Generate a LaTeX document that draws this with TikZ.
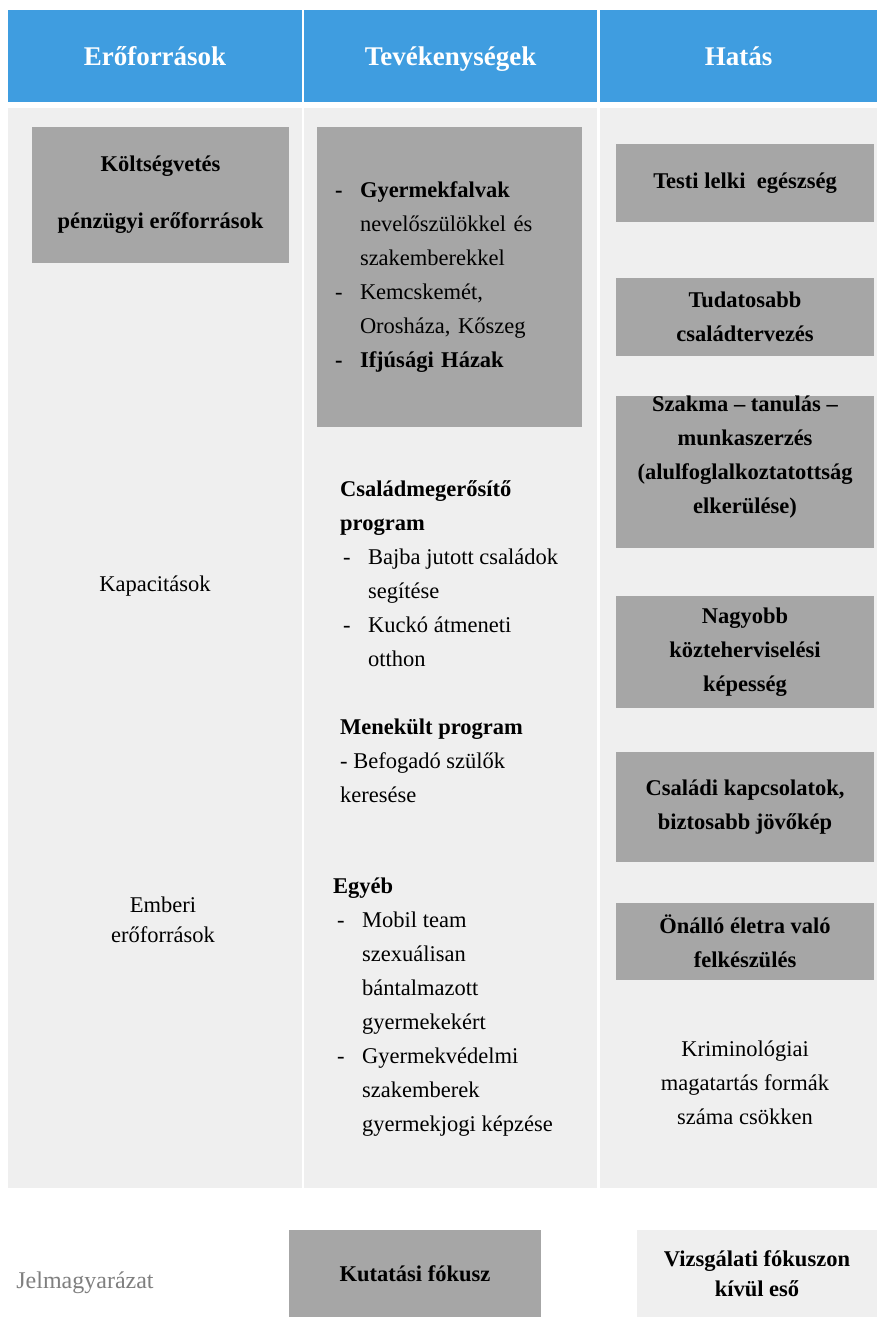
\documentclass[tikz,border=0pt]{standalone}
\usepackage{fontspec}
\setmainfont{Liberation Serif}
\usetikzlibrary{positioning}
\definecolor{headblue}{RGB}{63,157,224}
\definecolor{colgray}{RGB}{239,239,239}
\definecolor{focusgray}{RGB}{166,166,166}
\definecolor{legendgray}{RGB}{127,127,127}
\newcommand{\listdash}{\makebox[25pt][l]{-}}
\newcommand{\listgap}{\hspace*{25pt}}

\begin{document}
\begin{tikzpicture}[
    x=1pt, y=-1pt,
    headbox/.style={fill=headblue, text=white, font=\fontsize{27}{32}\selectfont\bfseries, minimum height=92pt, text height=22pt, text depth=4pt, inner sep=0pt},
    focusbox/.style={fill=focusgray, minimum width=258pt, font=\fontsize{22.5}{34}\selectfont\bfseries, align=center, inner sep=0pt},
    plaintext/.style={font=\fontsize{22.5}{34}\selectfont, align=left, inner sep=0pt, anchor=north west},
    midtext/.style={font=\fontsize{22.5}{34}\selectfont, align=center, inner sep=0pt}
]
    \useasboundingbox (0,0) rectangle (877,1317);
    \fill[white] (0,0) rectangle (877,1317);

    % header row
    \node[headbox, minimum width=294pt] (resources) at (155,56) {Erőforrások};
    \node[headbox, minimum width=293pt] (activities) at (450.5,56) {Tevékenységek};
    \node[headbox, minimum width=277pt] (impact) at (738.5,56) {Hatás};

    % column backgrounds
    \fill[colgray] (8,108) rectangle (302,1188);
    \fill[colgray] (304,108) rectangle (597,1188);
    \fill[colgray] (600,108) rectangle (877,1188);

    % resources
    \node[focusbox, minimum width=257pt, minimum height=136pt] (budget) at (160.5,195) {Költségvetés\\[23pt] pénzügyi erőforrások};
    \node[midtext] (capacity) at (155,586) {Kapacitások};
    \node[midtext, font=\fontsize{22.5}{30}\selectfont] (human) at (163,920) {Emberi\\ erőforrások};

    % activities
    \node[focusbox, minimum width=265pt, minimum height=300pt, text width=229pt, align=left, font=\fontsize{22.5}{34}\selectfont] (villages) at (449.5,277)
        {\textbf{\listdash Gyermekfalvak}\\ \listgap nevelőszülökkel és\\ \listgap szakemberekkel\\ \listdash Kemcskemét,\\ \listgap Orosháza, Kőszeg\\ \textbf{\listdash Ifjúsági Házak}};
    \node[plaintext] (family) at (340,480)
        {\textbf{Családmegerősítő}\\ \textbf{program}\\ \hspace*{3pt}\listdash Bajba jutott családok\\ \hspace*{3pt}\listgap segítése\\ \hspace*{3pt}\listdash Kuckó átmeneti\\ \hspace*{3pt}\listgap otthon\\[34pt] \textbf{Menekült program}\\ - Befogadó szülők\\ keresése};
    \node[plaintext] (other) at (333,878)
        {\textbf{Egyéb}\\ \hspace*{4pt}\listdash Mobil team\\ \hspace*{4pt}\listgap szexuálisan\\ \hspace*{4pt}\listgap bántalmazott\\ \hspace*{4pt}\listgap gyermekekért\\ \hspace*{4pt}\listdash Gyermekvédelmi\\ \hspace*{4pt}\listgap szakemberek\\ \hspace*{4pt}\listgap gyermekjogi képzése};

    % impact
    \node[focusbox, minimum height=78pt] (health) at (745,183) {Testi lelki\ \ egészség};
    \node[focusbox, minimum height=78pt] (planning) at (745,317) {Tudatosabb\\ családtervezés};
    \node[focusbox, minimum height=152pt] (work) at (745,472) {};
    \node[midtext, font=\fontsize{22.5}{34}\selectfont\bfseries] (worktext) at ([yshift=15pt]work.center) {Szakma -- tanulás --\\ munkaszerzés\\ (alulfoglalkoztatottság\\ elkerülése)};
    \node[focusbox, minimum height=112pt] (tax) at (745,652) {Nagyobb\\ közteherviselési\\ képesség};
    \node[focusbox, minimum height=110pt] (ties) at (745,807) {Családi kapcsolatok,\\ biztosabb jövőkép};
    \node[focusbox, minimum height=77pt] (selfcare) at (745,941.5) {Önálló életra való\\ felkészülés};
    \node[midtext] (crime) at (745,1083) {Kriminológiai\\ magatartás formák\\ száma csökken};

    % legend
    \node[midtext, text=legendgray, font=\fontsize{24}{30}\selectfont] (legend) at (85,1283) {Jelmagyarázat};
    \node[focusbox, minimum width=252pt, minimum height=87pt] (focus) at (415,1273.5) {Kutatási fókusz};
    \node[focusbox, fill=colgray, minimum width=240pt, minimum height=87pt, font=\fontsize{22.5}{30}\selectfont\bfseries] (outside) at (757,1273.5) {Vizsgálati fókuszon\\ kívül eső};
\end{tikzpicture}
\end{document}
